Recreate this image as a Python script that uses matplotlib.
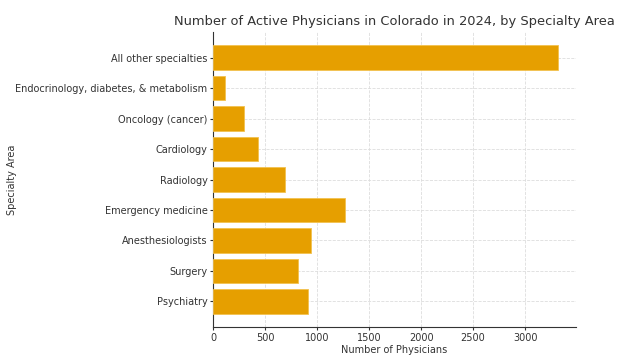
import numpy as np
import matplotlib.pyplot as plt

# values
specialties = ["Psychiatry", "Surgery", "Anesthesiologists", "Emergency medicine",
               "Radiology", "Cardiology", "Oncology (cancer)",
               "Endocrinology, diabetes, & metabolism", "All other specialties"]
physicians = [910, 814, 942, 1269, 692, 433, 301, 115, 3320]

fig = plt.figure(figsize=(6.33, 3.59), dpi=100)
ax = fig.add_axes([0.3365, 0.089, 0.573, 0.822])

ax.barh(specialties, physicians, color='#E69F00', edgecolor='#F2C14E', linewidth=0.6, zorder=3)

ax.grid(color='#dddddd', linestyle='--', linewidth=0.6, zorder=0)
ax.spines['top'].set_visible(False)
ax.spines['right'].set_visible(False)
for s in ['left', 'bottom']:
    ax.spines[s].set_color('#333333')
    ax.spines[s].set_linewidth(0.8)

ax.tick_params(labelsize=7, colors='#333333', length=2, pad=2)
ax.set_xlabel('Number of Physicians', fontsize=7, color='#333333', labelpad=2)
ax.set_ylabel('Specialty Area', fontsize=7, color='#333333')
ax.yaxis.set_label_coords(-0.54, 0.5)
ax.set_title('Number of Active Physicians in Colorado in 2024, by Specialty Area',
             fontsize=9.4, color='#333333', pad=5)

fig.savefig('out.png', dpi=100)
